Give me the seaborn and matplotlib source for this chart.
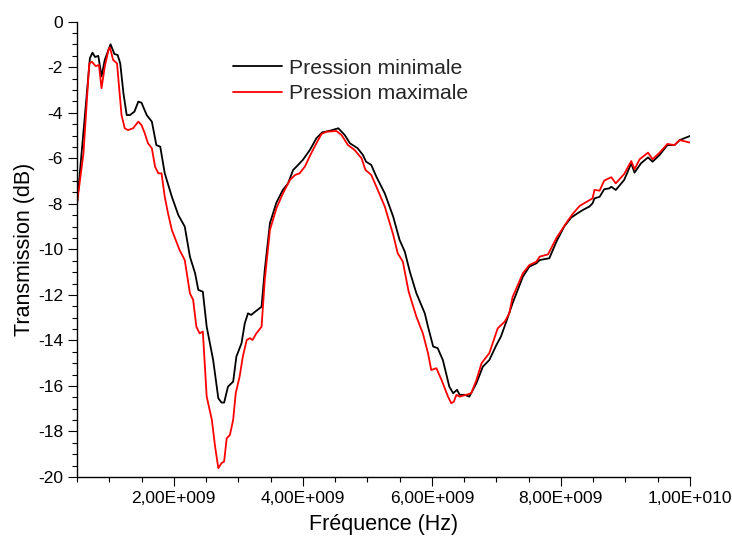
"""Transmission vs frequency, minimum / maximum pressure."""

import matplotlib
matplotlib.use("Agg")
import matplotlib.pyplot as plt
from matplotlib.ticker import FuncFormatter, MultipleLocator
import numpy as np
import pandas as pd
import seaborn as sns

# frequencies in GHz, transmission in dB
freq_min = [
    0.50, 0.62, 0.70, 0.74, 0.78, 0.83, 0.88, 0.93, 1.02, 1.08, 1.13, 1.17, 1.22,
    1.27, 1.32, 1.39, 1.45, 1.50, 1.58, 1.66, 1.73, 1.79, 1.86, 1.97, 2.07, 2.17,
    2.25, 2.33, 2.38, 2.45, 2.51, 2.61, 2.69, 2.74, 2.78, 2.84, 2.92, 2.97, 3.05,
    3.10, 3.15, 3.20, 3.26, 3.36, 3.41, 3.49, 3.59, 3.69, 3.77, 3.85, 3.90, 4.00,
    4.11, 4.21, 4.30, 4.42, 4.55, 4.65, 4.73, 4.85, 4.93, 4.98, 5.06, 5.14, 5.27,
    5.40, 5.50, 5.58, 5.66, 5.76, 5.89, 5.94, 6.02, 6.09, 6.17, 6.27, 6.33, 6.39,
    6.43, 6.51, 6.58, 6.69, 6.79, 6.89, 7.00, 7.07, 7.15, 7.25, 7.41, 7.51, 7.62,
    7.67, 7.82, 7.93, 8.05, 8.16, 8.26, 8.34, 8.44, 8.49, 8.52, 8.60, 8.67, 8.75,
    8.78, 8.85, 8.98, 9.09, 9.14, 9.24, 9.35, 9.42, 9.53, 9.65, 9.76, 9.84, 10.0,
]
trans_min = [
    -8.05, -4.20, -1.60, -1.36, -1.55, -1.50, -2.40, -1.68, -0.99, -1.42, -1.46,
    -1.83, -3.15, -4.10, -4.10, -3.95, -3.51, -3.56, -4.10, -4.39, -5.42, -5.49,
    -6.66, -7.69, -8.49, -9.00, -10.32, -11.05, -11.78, -11.86, -13.40, -14.86,
    -16.54, -16.73, -16.73, -16.03, -15.81, -14.71, -14.12, -13.25, -12.81, -12.88,
    -12.74, -12.52, -10.90, -8.85, -7.95, -7.39, -7.10, -6.51, -6.37, -6.07, -5.63,
    -5.12, -4.86, -4.79, -4.68, -4.98, -5.34, -5.56, -5.85, -6.15, -6.29, -6.81,
    -7.54, -8.56, -9.59, -10.10, -11.00, -11.93, -12.81, -13.40, -14.27, -14.34,
    -14.86, -16.03, -16.32, -16.17, -16.39, -16.39, -16.47, -15.88, -15.15, -14.86,
    -14.20, -13.83, -13.20, -12.37, -11.20, -10.76, -10.61, -10.47, -10.39, -9.66,
    -9.00, -8.60, -8.41, -8.27, -8.12, -7.98, -7.76, -7.69, -7.36, -7.32, -7.25,
    -7.39, -6.95, -6.22, -6.63, -6.22, -5.96, -6.15, -5.85, -5.42, -5.42, -5.20,
    -5.02,
]

freq_max = [
    0.50, 0.60, 0.69, 0.73, 0.79, 0.84, 0.88, 0.93, 0.99, 1.01, 1.06, 1.12, 1.19,
    1.24, 1.29, 1.37, 1.45, 1.50, 1.55, 1.60, 1.66, 1.71, 1.76, 1.81, 1.86, 1.91,
    1.97, 2.09, 2.17, 2.25, 2.30, 2.35, 2.40, 2.45, 2.51, 2.59, 2.64, 2.69, 2.74,
    2.78, 2.82, 2.87, 2.92, 2.96, 3.02, 3.07, 3.13, 3.18, 3.22, 3.28, 3.36, 3.41,
    3.49, 3.59, 3.69, 3.80, 3.88, 3.95, 4.03, 4.13, 4.21, 4.29, 4.37, 4.52, 4.60,
    4.70, 4.80, 4.91, 4.97, 5.06, 5.14, 5.27, 5.40, 5.47, 5.55, 5.64, 5.76, 5.86,
    5.94, 5.99, 6.07, 6.15, 6.25, 6.30, 6.34, 6.38, 6.43, 6.53, 6.61, 6.69, 6.77,
    6.89, 7.02, 7.13, 7.20, 7.25, 7.41, 7.51, 7.62, 7.67, 7.80, 7.93, 8.08, 8.18,
    8.29, 8.49, 8.52, 8.60, 8.67, 8.78, 8.85, 8.98, 9.09, 9.14, 9.22, 9.35, 9.42,
    9.53, 9.65, 9.76, 9.84, 10.0,
]
trans_max = [
    -7.98, -5.78, -1.83, -1.76, -1.95, -1.90, -2.92, -1.98, -1.21, -1.13, -1.68,
    -1.83, -4.10, -4.68, -4.76, -4.68, -4.39, -4.54, -4.90, -5.34, -5.56, -6.37,
    -6.66, -6.66, -7.69, -8.41, -9.15, -10.03, -10.47, -11.93, -12.22, -13.40,
    -13.69, -13.61, -16.47, -17.49, -18.66, -19.61, -19.39, -19.32, -18.30, -18.15,
    -17.49, -16.32, -15.59, -14.71, -13.98, -13.90, -13.98, -13.69, -13.40, -11.34,
    -9.15, -8.20, -7.55, -6.95, -6.73, -6.66, -6.37, -5.78, -5.34, -4.93, -4.83,
    -4.80, -4.98, -5.42, -5.63, -6.00, -6.51, -6.73, -7.25, -8.12, -9.35, -10.17,
    -10.54, -11.86, -12.96, -13.69, -14.56, -15.30, -15.22, -15.74, -16.47, -16.76,
    -16.69, -16.39, -16.47, -16.39, -16.32, -15.74, -15.00, -14.56, -13.47, -13.17,
    -12.81, -12.10, -11.05, -10.69, -10.54, -10.32, -10.22, -9.50, -8.85, -8.45,
    -8.09, -7.76, -7.39, -7.42, -6.98, -6.83, -7.10, -6.69, -6.12, -6.48, -6.04,
    -5.75, -6.04, -5.75, -5.37, -5.42, -5.20, -5.31,
]

labels = ["Pression minimale", "Pression maximale"]
colors = ["black", "red"]


def sci_comma(v, _pos):
    if v == 0:
        return "0"
    exp = int(np.floor(np.log10(abs(v))))
    mant = v / 10 ** exp
    return f"{mant:.2f}".replace(".", ",") + f"E+{exp:03d}"


def main() -> None:
    sns.set_theme(style="ticks")
    plt.rcParams["font.family"] = ["Liberation Sans", "DejaVu Sans"]
    plt.rcParams["axes.unicode_minus"] = False

    df = pd.concat([
        pd.DataFrame({"freq": np.array(freq_min) * 1e9, "trans": trans_min, "serie": labels[0]}),
        pd.DataFrame({"freq": np.array(freq_max) * 1e9, "trans": trans_max, "serie": labels[1]}),
    ], ignore_index=True)

    fig = plt.figure(figsize=(7.32, 5.39), dpi=100)
    ax = fig.add_subplot(111)
    fig.subplots_adjust(left=0.1052, right=0.9426, bottom=0.115, top=0.9597)

    sns.lineplot(
        data=df, x="freq", y="trans", hue="serie", hue_order=labels,
        palette=colors, estimator=None, sort=False, linewidth=1.3, ax=ax,
    )

    ax.set_xlim(0.5e9, 1e10)
    ax.set_ylim(-20, 0)
    ax.xaxis.set_major_locator(MultipleLocator(2e9))
    ax.xaxis.set_minor_locator(MultipleLocator(0.5e9))
    ax.yaxis.set_major_locator(MultipleLocator(2))
    ax.yaxis.set_minor_locator(MultipleLocator(0.5))
    ax.xaxis.set_major_formatter(FuncFormatter(sci_comma))
    ax.yaxis.set_major_formatter(FuncFormatter(lambda v, p: f"{int(round(v))}"))

    ax.tick_params(which="major", direction="out", length=6.5, width=0.8,
                   labelsize=12.5, color="black", labelcolor="black")
    ax.tick_params(which="minor", direction="out", length=3.6, width=0.8, color="black")
    for side in ("left", "bottom"):
        ax.spines[side].set_linewidth(1.0)
        ax.spines[side].set_color("black")
    sns.despine(ax=ax)

    ax.set_xlabel("Fréquence (Hz)", fontsize=15.5, color="black", labelpad=6)
    ax.set_ylabel("Transmission (dB)", fontsize=15.5, color="black", labelpad=2.5)

    ax.legend(
        loc="upper left", bbox_to_anchor=(0.254, 0.919), frameon=False,
        fontsize=15.3, handlelength=2.3, handletextpad=0.35, borderpad=0,
        borderaxespad=0, labelspacing=0.3,
    )

    fig.savefig("out.png", dpi=100)


if __name__ == "__main__":
    main()
